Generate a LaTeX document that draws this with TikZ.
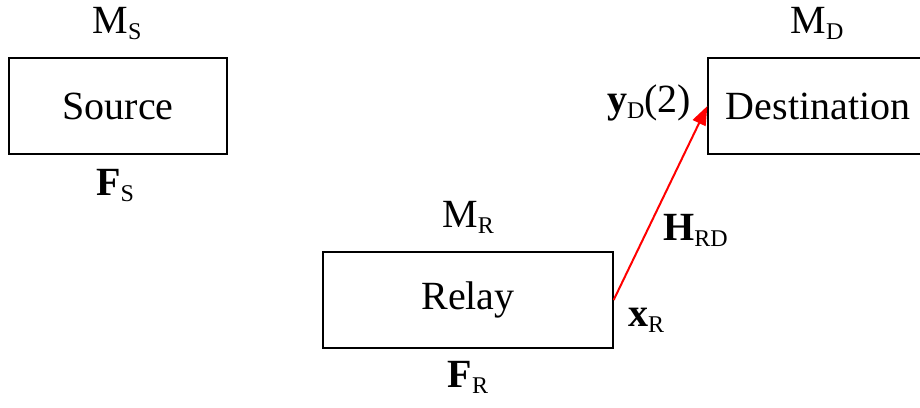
\documentclass[tikz,border=0pt]{standalone}
\usepackage{fontspec}
\setmainfont{Liberation Serif}
\usetikzlibrary{arrows.meta}
\newcommand\lowsub[1]{\raisebox{-0.15em}{\fontsize{24}{24}\selectfont #1}}
\tikzset{
  blk/.style={draw, line width=1.3pt, minimum height=96pt, inner sep=0pt},
  lbl/.style={inner sep=0pt, font=\fontsize{40}{48}\selectfont},
  link/.style={draw=red, line width=2pt, -{Triangle[length=19pt,width=14pt]}}
}
\begin{document}
\begin{tikzpicture}[x=1pt,y=-1pt]
\useasboundingbox (0,0) rectangle (920,407);
\clip (0,0) rectangle (920,407);
\node[blk, lbl, minimum width=218pt] (src) at (118,106) {Source};
\node[blk, lbl, minimum width=290pt] (rly) at (468,300) {Relay};
\node[blk, lbl, minimum width=220pt] (dst) at (818,106) {Destination};
\node[lbl, anchor=base] (ms) at (117,33) {M\lowsub{S}};
\node[lbl, anchor=base] (fs) at (115,195) {\textbf{F}\lowsub{S}};
\node[lbl, anchor=base] (mr) at (468,227) {M\lowsub{R}};
\node[lbl, anchor=base] (fr) at (468,387) {\textbf{F}\lowsub{R}};
\node[lbl, anchor=base] (md) at (817,33) {M\lowsub{D}};
\node[lbl, anchor=base west] (xr) at (628,326) {\textbf{x}\lowsub{R}};
\node[lbl, anchor=base west] (hrd) at (663,240) {\textbf{H}\lowsub{RD}};
\node[lbl, anchor=base west] (yd) at (607,112) {\textbf{y}\lowsub{D}(2)};
\draw[link] (rly.east) -- (dst.west);
\end{tikzpicture}
\end{document}
